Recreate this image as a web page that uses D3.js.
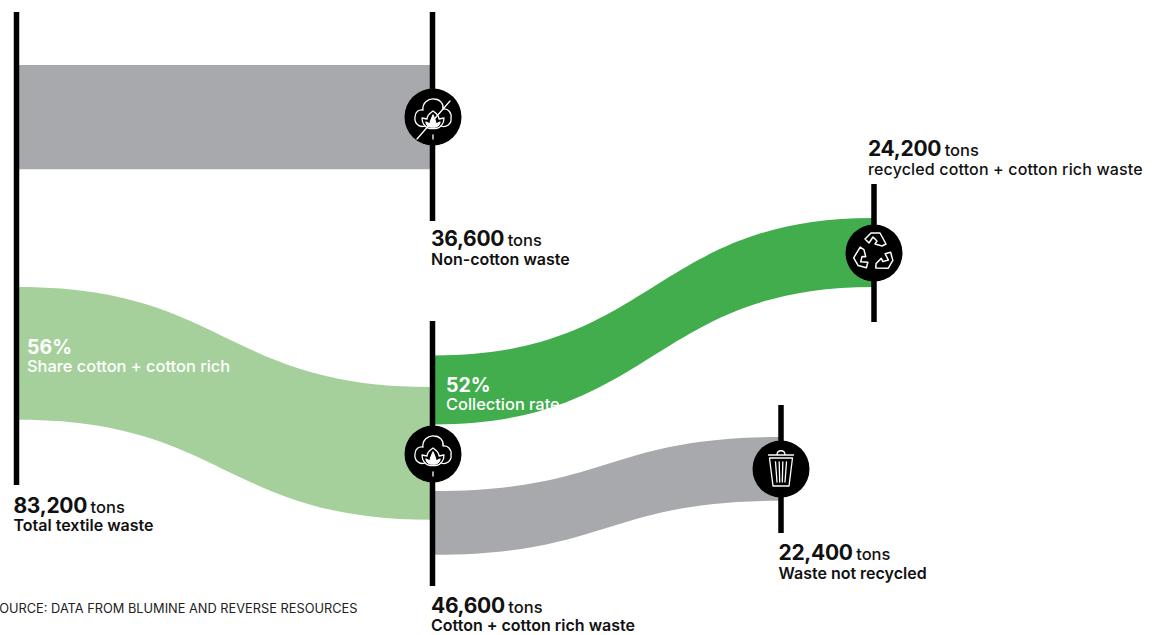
<!DOCTYPE html>
<html>
<head>
<meta charset="utf-8">
<script src="https://cdn.jsdelivr.net/npm/d3@7"></script>
<style>
html,body{margin:0;padding:0;background:#fff;overflow:hidden}
svg{display:block}
text{font-family:Inter,"Noto Sans",sans-serif;fill:#111}
</style>
</head>
<body>
<svg id="chart" width="1157" height="635"></svg>
<script>
// Tonnage of each flow in the textile waste stream
const flowNames = ["Non-cotton waste", "Cotton + cotton rich waste", "recycled cotton + cotton rich waste", "Waste not recycled"];
const flowTons = [36600, 46600, 24200, 22400];
const totalTons = 83200;
const totalName = "Total textile waste";
const percentValues = ["56%", "52%"];
const percentNames = ["Share cotton + cotton rich", "Collection rate"];
const sourceNote = "SOURCE: DATA FROM BLUMINE AND REVERSE RESOURCES";

const colors = {grey: "#a7a9ac", pale: "#a5d09b", green: "#41ad4d", ink: "#000"};

const svg = d3.select("#chart");
const thickness = d3.scaleLinear().domain([0, totalTons]).range([0, 237]);
const fmt = d3.format(",");

// Column positions of the vertical bars
const col = {total: 16.5, split: 432.5, recycled: 874, rest: 781};

// Each band runs between two x positions and two top edges
const bands = [
  {tons: flowTons[0], x0: 18, x1: 431, y0: 65, y1: 65, fill: colors.grey},
  {tons: flowTons[1], x0: 18, x1: 431, y0: 287, y1: 387, fill: colors.pale},
  {tons: flowTons[2], x0: 434, x1: 873, y0: 355.5, y1: 218, fill: colors.green},
  {tons: flowTons[3], x0: 434, x1: 780, y0: 491, y1: 437, fill: colors.grey}
];

const bandArea = d3.area().curve(d3.curveBumpX)
  .x(d => d.x).y0(d => d.y).y1(d => d.y + d.h);

svg.append("g").selectAll("path").data(bands).join("path")
  .attr("fill", d => d.fill)
  .attr("d", d => bandArea([
    {x: d.x0, y: d.y0, h: thickness(d.tons)},
    {x: d.x1, y: d.y1, h: thickness(d.tons)}
  ]));

// Vertical bars
const bars = [
  {x: col.total, y0: 12, y1: 485},
  {x: col.split, y0: 12, y1: 221},
  {x: col.split, y0: 321, y1: 586},
  {x: col.recycled, y0: 184, y1: 322},
  {x: col.rest, y0: 405, y1: 533}
];
svg.append("g").selectAll("line").data(bars).join("line")
  .attr("x1", d => d.x).attr("x2", d => d.x)
  .attr("y1", d => d.y0).attr("y2", d => d.y1)
  .attr("stroke", colors.ink).attr("stroke-width", 5.5);

// Icon badges
function badge(x, y) {
  const g = svg.append("g").attr("transform", `translate(${x},${y})`);
  g.append("circle").attr("r", 28.5).attr("fill", colors.ink);
  return g.append("g").attr("fill", "none").attr("stroke", "#fff")
    .attr("stroke-width", 1.3).attr("stroke-linejoin", "round").attr("stroke-linecap", "round");
}

function cotton(g) {
  // boll outline
  g.append("path").attr("d", "M-8,9 C-14,11 -19,6 -18,0 C-18,-5 -14,-8 -10,-7 C-11,-14 -5,-18.5 1,-18 C7,-18 11,-13 10,-8 C15,-9 19,-4 18,1 C19,7 13,11 8,9");
  // petals
  g.append("path").attr("d", "M-11,1 L-6,2 C-6,-1 -3,-4 0,-6 C3,-4 6,-1 6,2 L11,1 C11,6 8,11 3,11.5 L-3,11.5 C-8,11 -11,6 -11,1 Z");
  g.append("path").attr("d", "M-7,5 L-3,7 C-3,4 -1,1 0,-2 C1,1 3,4 3,7 L7,5 C7,8 4,10 2,10 L-2,10 C-4,10 -7,8 -7,5 Z")
    .attr("fill", "#fff");
  g.append("path").attr("d", "M0,18 V22");
}

const noCotton = badge(col.split + 0.5, 117);
cotton(noCotton);
noCotton.append("path").attr("d", "M-16,22 L17,-16");
cotton(badge(col.split + 0.5, 454));

// Recycling arrows
const recycle = badge(col.recycled, 253).attr("stroke-width", 1.5);
const arrow = "M-9,-14 L-3,-20 L6,-20 L12,-9 L8,-7 L1,-9 L3,-12 L-1,-16 L-5,-10 Z";
[0, 120, 240].forEach(a => recycle.append("path").attr("d", arrow).attr("transform", `rotate(${a})`));

// Waste bin
const bin = badge(col.rest, 469);
bin.append("path").attr("d", "M-11.5,-11 H11.5 L8,17 H-8 Z");
bin.append("path").attr("d", "M-12.5,-14 H12.5 M-4,-14.5 C-3.5,-19.5 3.5,-19.5 4,-14.5");
bin.append("path").attr("d", "M-5.5,-7 L-4,13 M-1.8,-7 L-1.3,13 M1.8,-7 L1.3,13 M5.5,-7 L4,13");

// Value labels under and over each bar
const labels = [
  {x: 13.5, y: 512.5, tons: totalTons, name: totalName, w: 600, ls: 0},
  {x: 431, y: 246, tons: flowTons[0], name: flowNames[0], w: 600, ls: 0},
  {x: 431, y: 612.5, tons: flowTons[1], name: flowNames[1], w: 600, ls: 0},
  {x: 868, y: 156, tons: flowTons[2], name: flowNames[2], w: 500, ls: 0.15},
  {x: 778.5, y: 560, tons: flowTons[3], name: flowNames[3], w: 600, ls: 0}
];
const lab = svg.append("g").selectAll("g").data(labels).join("g")
  .attr("transform", d => `translate(${d.x},${d.y})`);
const big = lab.append("text");
big.append("tspan").attr("font-size", 21).attr("font-weight", 700).attr("letter-spacing", -0.3)
  .text(d => fmt(d.tons));
big.append("tspan").attr("dx", 3.5).attr("font-size", 16.5).attr("font-weight", 500).text("tons");
lab.append("text").attr("y", 18.5).attr("font-size", 16).attr("font-weight", d => d.w)
  .attr("letter-spacing", d => d.ls).text(d => d.name);

// Percentages printed on the bands
const pct = svg.append("g").selectAll("g")
  .data([{x: 27, y: 354, i: 0}, {x: 446, y: 392, i: 1}]).join("g")
  .attr("transform", d => `translate(${d.x},${d.y})`);
pct.append("text").style("fill", "#fff").attr("font-size", 19.5).attr("font-weight", 700).text(d => percentValues[d.i]);
pct.append("text").attr("y", 18).style("fill", "#fff").attr("font-size", 16.4).attr("font-weight", 500).text(d => percentNames[d.i]);

// Source note, starting just past the left edge
svg.append("text").attr("x", -9).attr("y", 612.5).attr("font-size", 12.8).attr("font-weight", 400)
  .style("fill", "#222").text(sourceNote);
</script>
</body>
</html>
